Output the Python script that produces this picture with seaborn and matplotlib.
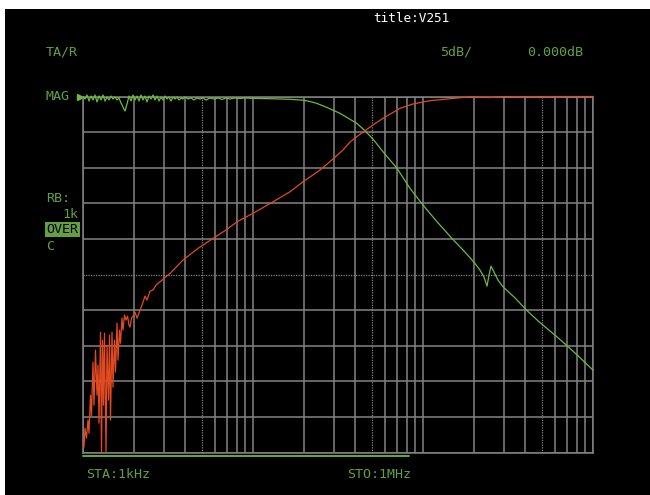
import matplotlib
matplotlib.use("Agg")
import matplotlib.pyplot as plt
import seaborn as sns
import numpy as np
import pandas as pd
from matplotlib.patches import Rectangle

# ---- data (frequency in kHz, magnitude in dB) ----
red_f = [1.000, 1.0136, 1.0274, 1.0486, 1.0701, 1.0846, 1.1068, 1.1220, 1.1451, 1.1606,
         1.1844, 1.2087, 1.2253, 1.2420, 1.2675, 1.2848, 1.3024, 1.3201, 1.3381, 1.3656,
         1.3843, 1.4125, 1.4318, 1.4514, 1.4812, 1.5014, 1.5322, 1.5531, 1.5849, 1.6066,
         1.6395, 1.6619, 1.6960, 1.7192, 1.7545, 1.7905, 1.8273, 1.8648, 1.8902, 1.9290,
         1.9687, 2.0228, 2.0783, 2.1645, 2.2239, 2.3160, 2.3796, 2.4782, 2.5809, 2.6879,
         2.8379, 3.2488, 3.8747, 4.7474, 5.8171, 7.0333, 8.0514, 10.0, 13.112, 16.506,
         19.683, 24.782, 29.552, 33.836, 37.200, 40.74, 45.590, 51.5, 58.171, 73.232,
         87.36, 109.97, 138.44, 188.98, 247.82, 283.79, 1000.0]
red_db = [-48.24, -49.23, -46.56, -47.96, -45.43, -47.26, -41.92, -44.87, -37.29, -43.33,
          -35.60, -41.92, -37.71, -45.86, -33.08, -50.0, -34.20, -43.33, -33.22, -50.0,
          -34.90, -42.62, -33.50, -45.43, -33.08, -40.80, -34.20, -38.70, -31.81, -37.01,
          -32.79, -34.62, -31.11, -32.79, -30.68, -31.39, -30.83, -32.09, -32.37, -31.11,
          -30.83, -30.27, -31.11, -29.99, -29.28, -28.02, -28.58, -27.32, -27.18, -26.47,
          -26.01, -24.83, -22.96, -21.32, -19.92, -18.65, -17.58, -16.40, -14.78, -13.37,
          -11.97, -10.32, -8.78, -7.51, -6.39, -5.65, -4.80, -3.90, -3.06, -1.66,
          -1.05, -0.59, -0.35, -0.04, -0.15, -0.01, 0.0]

green_f = [1.000, 1.0274, 1.0557, 1.0846, 1.1144, 1.1451, 1.1766, 1.2087, 1.2420, 1.2761,
           1.3112, 1.3473, 1.3843, 1.4224, 1.4614, 1.5014, 1.5427, 1.5849, 1.6285, 1.6733,
           1.7192, 1.7666, 1.8150, 1.8648, 1.9161, 1.9687, 2.0228, 2.0783, 2.1355, 2.1941,
           2.2544, 2.3160, 2.3796, 2.4450, 2.5121, 2.5809, 2.6517, 2.7246, 2.7994, 2.8762,
           2.9555, 3.0365, 3.1198, 3.2055, 3.2935, 3.3839, 3.4768, 3.5722, 3.6703, 3.7711,
           3.8747, 3.9810, 4.1468, 4.3190, 4.4983, 4.6845, 4.8784, 5.0807, 5.2910, 5.5852,
           5.8965, 6.2251, 6.5718, 6.9382, 7.3250, 7.8363, 8.3843, 8.9732, 9.6019, 12.589,
           16.506, 19.683, 21.6, 23.70, 27.14, 32.49, 37.200, 40.74, 45.590, 51.5,
           58.171, 70.315, 83.84, 100.0, 120.87, 148.10, 176.64, 202.25, 216.43, 228.48,
           237.96, 244.50, 251.19, 261.64, 276.20, 295.54, 347.77, 409.06, 487.84, 597.6,
           703.15, 838.4, 1000.0]
green_db = [-0.07, -0.35, 0.21, -0.63, 0.07, -0.49, 0.21, -0.77, 0.07, -0.49,
            0.21, -0.63, -0.07, -0.49, 0.07, -0.35, -0.07, -0.49, -0.21, -0.91,
            -1.47, -2.04, -1.05, 0.07, -0.63, 0.21, -0.49, 0.07, -0.63, 0.21,
            -0.49, 0.07, -0.77, 0.07, -0.35, 0.21, -0.49, 0.07, -0.63, -0.07,
            -0.49, 0.07, -0.35, -0.07, -0.63, -0.07, -0.35, -0.07, -0.49, -0.21,
            -0.35, -0.07, -0.35, -0.21, -0.49, -0.21, -0.35, -0.21, -0.49, -0.21,
            -0.35, -0.21, -0.42, -0.21, -0.35, -0.21, -0.28, -0.21, -0.25, -0.31,
            -0.39, -0.52, -0.70, -0.96, -1.52, -2.36, -3.20, -3.76, -4.80, -6.15,
            -7.75, -10.08, -12.89, -15.24, -17.58, -19.92, -21.84, -23.43, -24.37, -25.35,
            -26.62, -25.07, -23.81, -24.65, -25.77, -26.71, -28.27, -30.06, -31.74, -33.50,
            -34.97, -36.66, -38.41]

x_range = [1.0, 1000.0]      # 1 kHz .. 1 MHz
y_range = [-50.0, 0.0]       # 5 dB/div, ref 0.000 dB
y_ticks = [-50, -45, -40, -35, -30, -25, -20, -15, -10, -5, 0]
dotted_x = [5.0, 50.0, 500.0]

GRID = "#838383"
TXT = "#62a043"
GTR = "#6dbb3c"
RTR = "#e24a22"

sns.set_style("dark")
plt.rcParams["font.family"] = ["DejaVu Sans Mono", "DejaVu Sans"]

fig = plt.figure(figsize=(6.5, 4.95), dpi=100, facecolor="white")
fig.patches.append(Rectangle((5 / 650, 0), 1 - 5 / 650, (495 - 9) / 495,
                             transform=fig.transFigure, facecolor="black",
                             edgecolor="none", zorder=-10))

ax = fig.add_axes([83 / 650, 1 - 452.7 / 495, 510 / 650, 356.2 / 495])
ax.set_facecolor("black")
ax.set_xscale("log")
ax.set_xlim(*x_range)
ax.set_ylim(*y_range)

# grid: 1..9 per decade vertically, 5 dB horizontally
xt = [m * 10 ** k for k in range(0, 3) for m in range(1, 10)] + [1000.0]
ax.set_xticks(xt)
ax.set_xticks([], minor=True)
ax.set_yticks(y_ticks)
ax.tick_params(length=0, labelbottom=False, labelleft=False, which="both")
ax.grid(True, color=GRID, linewidth=1.1)
for gl, v in zip(ax.get_xgridlines(), xt):
    if any(abs(v - d) < 1e-6 for d in dotted_x):
        gl.set_linestyle((0, (1, 1)))
        gl.set_linewidth(0.9)
for gl, v in zip(ax.get_ygridlines(), y_ticks):
    if v == -25:
        gl.set_linestyle((0, (1, 1)))
        gl.set_linewidth(0.9)
for s in ax.spines.values():
    s.set_color(GRID)
    s.set_linewidth(1.1)

df_g = pd.DataFrame({"f": green_f, "db": green_db})
df_r = pd.DataFrame({"f": red_f, "db": red_db})
sns.lineplot(data=df_g, x="f", y="db", ax=ax, color=GTR, linewidth=0.9,
             estimator=None, sort=False, clip_on=False, zorder=3)
sns.lineplot(data=df_r, x="f", y="db", ax=ax, color=RTR, linewidth=0.9,
             estimator=None, sort=False, clip_on=False, zorder=4)
ax.set_xlabel("")
ax.set_ylabel("")

# reference marker and sweep bar
ax.plot([-0.006], [1.0], transform=ax.transAxes, marker=">", markersize=5,
        color=GTR, clip_on=False, linestyle="none")
ax.plot([0, (409 - 83) / 510], [-0.0095, -0.0095], transform=ax.transAxes,
        color=GTR, linewidth=1.3, clip_on=False)

fs = 9.6
def ftxt(x, y, s, **kw):
    kw.setdefault("color", TXT)
    kw.setdefault("fontsize", fs)
    kw.setdefault("va", "center")
    fig.text(x / 650, 1 - y / 495, s, **kw)

ftxt(411, 18.5, "title:V251", color="white", fontsize=9.2, ha="center")
ftxt(45.5, 52, "TA/R", ha="left")
ftxt(440.5, 52, "5dB/", ha="left")
ftxt(527, 52, "0.000dB", ha="left")
ftxt(46, 96, "MAG", ha="left")
ftxt(46, 198, "RB:", ha="left")
ftxt(78, 214, "1k", ha="right")
ftxt(46.5, 229.5, "OVER", ha="left", color="black",
     bbox=dict(boxstyle="square,pad=0.08", facecolor=TXT, edgecolor="none"))
ftxt(46, 246, "C", ha="left")
ftxt(86.5, 474, "STA:1kHz", ha="left")
ftxt(347.5, 474, "STO:1MHz", ha="left")

fig.savefig("out.png", dpi=100, facecolor="white")
